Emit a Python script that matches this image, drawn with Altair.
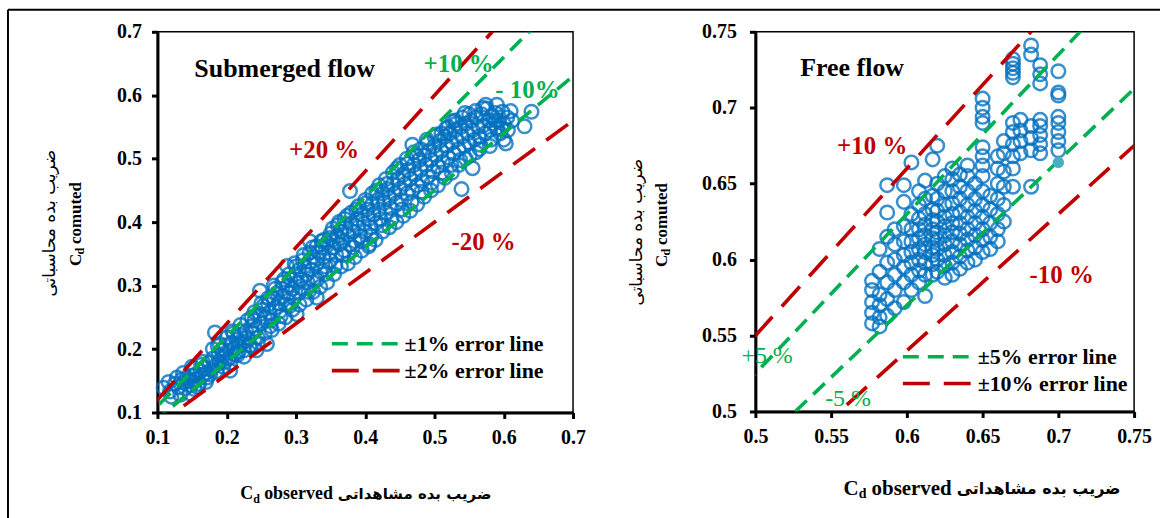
import altair as alt
import pandas as pd

# ---------------- data ----------------
# Submerged flow: (Cd observed, Cd computed)
sub_points = [
    (0.109, 0.139), (0.118, 0.133), (0.125, 0.145), (0.13, 0.14), (0.135, 0.152), (0.138, 0.147),
    (0.14, 0.138), (0.142, 0.155), (0.145, 0.15), (0.147, 0.13), (0.148, 0.143), (0.15, 0.158),
    (0.152, 0.148), (0.155, 0.16), (0.157, 0.152), (0.16, 0.145), (0.162, 0.165), (0.165, 0.158),
    (0.168, 0.17), (0.17, 0.162), (0.172, 0.155), (0.175, 0.178), (0.178, 0.168), (0.18, 0.185),
    (0.183, 0.226), (0.185, 0.175), (0.188, 0.19), (0.19, 0.18), (0.193, 0.198), (0.195, 0.188),
    (0.198, 0.205), (0.2, 0.195), (0.203, 0.185), (0.205, 0.166), (0.207, 0.21), (0.21, 0.2),
    (0.212, 0.192), (0.215, 0.215), (0.218, 0.205), (0.22, 0.222), (0.222, 0.21), (0.225, 0.198),
    (0.228, 0.228), (0.23, 0.218), (0.233, 0.205), (0.235, 0.235), (0.238, 0.225), (0.24, 0.245),
    (0.242, 0.232), (0.245, 0.218), (0.248, 0.292), (0.248, 0.255), (0.25, 0.24), (0.252, 0.262),
    (0.255, 0.25), (0.258, 0.208), (0.26, 0.27), (0.262, 0.258), (0.265, 0.245), (0.267, 0.28),
    (0.27, 0.265), (0.272, 0.288), (0.275, 0.272), (0.277, 0.26), (0.28, 0.295), (0.282, 0.283),
    (0.285, 0.27), (0.287, 0.331), (0.288, 0.3), (0.29, 0.288), (0.292, 0.31), (0.295, 0.295),
    (0.297, 0.28), (0.3, 0.318), (0.301, 0.255), (0.302, 0.305), (0.305, 0.325), (0.307, 0.31),
    (0.31, 0.295), (0.312, 0.33), (0.315, 0.318), (0.317, 0.305), (0.32, 0.37), (0.32, 0.338),
    (0.322, 0.325), (0.325, 0.345), (0.327, 0.312), (0.33, 0.281), (0.33, 0.335), (0.333, 0.352),
    (0.335, 0.322), (0.338, 0.36), (0.34, 0.345), (0.343, 0.33), (0.345, 0.368), (0.348, 0.352),
    (0.35, 0.34), (0.353, 0.39), (0.353, 0.372), (0.355, 0.36), (0.358, 0.348), (0.36, 0.378),
    (0.363, 0.365), (0.365, 0.385), (0.368, 0.37), (0.37, 0.355), (0.372, 0.392), (0.375, 0.38),
    (0.378, 0.449), (0.378, 0.365), (0.38, 0.398), (0.383, 0.385), (0.385, 0.37), (0.388, 0.405),
    (0.39, 0.392), (0.393, 0.378), (0.395, 0.412), (0.398, 0.398), (0.4, 0.385), (0.403, 0.42),
    (0.405, 0.405), (0.406, 0.365), (0.408, 0.392), (0.41, 0.428), (0.412, 0.412), (0.415, 0.398),
    (0.418, 0.435), (0.42, 0.42), (0.422, 0.405), (0.425, 0.445), (0.427, 0.43), (0.43, 0.415),
    (0.432, 0.452), (0.435, 0.438), (0.437, 0.422), (0.44, 0.46), (0.442, 0.445), (0.445, 0.43),
    (0.447, 0.468), (0.45, 0.452), (0.452, 0.435), (0.455, 0.475), (0.457, 0.46), (0.46, 0.445),
    (0.462, 0.482), (0.465, 0.468), (0.468, 0.522), (0.468, 0.45), (0.47, 0.49), (0.472, 0.475),
    (0.475, 0.458), (0.478, 0.498), (0.48, 0.482), (0.482, 0.465), (0.485, 0.505), (0.488, 0.49),
    (0.49, 0.472), (0.492, 0.512), (0.495, 0.498), (0.498, 0.48), (0.5, 0.52), (0.502, 0.505),
    (0.505, 0.488), (0.508, 0.528), (0.51, 0.512), (0.512, 0.495), (0.515, 0.535), (0.518, 0.52),
    (0.52, 0.502), (0.522, 0.54), (0.525, 0.525), (0.526, 0.559), (0.528, 0.508), (0.53, 0.545),
    (0.532, 0.53), (0.535, 0.515), (0.538, 0.55), (0.539, 0.452), (0.54, 0.535), (0.543, 0.52),
    (0.545, 0.555), (0.548, 0.54), (0.55, 0.525), (0.553, 0.56), (0.555, 0.485), (0.555, 0.545),
    (0.558, 0.53), (0.56, 0.565), (0.563, 0.55), (0.565, 0.535), (0.568, 0.57), (0.57, 0.552),
    (0.573, 0.54), (0.575, 0.579), (0.578, 0.56), (0.58, 0.545), (0.583, 0.568), (0.585, 0.555),
    (0.588, 0.572), (0.59, 0.548), (0.593, 0.56), (0.598, 0.574), (0.6, 0.555), (0.603, 0.524),
    (0.605, 0.565), (0.63, 0.551), (0.64, 0.574),
]
# wider-scattered submerged-flow readings
sub_points_spread = [
    (0.12, 0.125), (0.128, 0.155), (0.133, 0.128), (0.15, 0.172), (0.158, 0.14), (0.165, 0.18),
    (0.17, 0.148), (0.18, 0.2), (0.185, 0.165), (0.19, 0.208), (0.195, 0.172), (0.2, 0.218),
    (0.205, 0.178), (0.21, 0.225), (0.215, 0.19), (0.22, 0.238), (0.225, 0.188), (0.23, 0.245),
    (0.235, 0.205), (0.24, 0.258), (0.245, 0.21), (0.25, 0.272), (0.255, 0.225), (0.26, 0.28),
    (0.265, 0.23), (0.27, 0.295), (0.275, 0.24), (0.28, 0.305), (0.285, 0.25), (0.29, 0.318),
    (0.295, 0.262), (0.3, 0.33), (0.305, 0.27), (0.31, 0.34), (0.315, 0.278), (0.32, 0.352),
    (0.325, 0.29), (0.33, 0.362), (0.335, 0.298), (0.34, 0.372), (0.345, 0.305), (0.35, 0.382),
    (0.355, 0.318), (0.36, 0.395), (0.365, 0.33), (0.37, 0.405), (0.375, 0.335), (0.38, 0.415),
    (0.385, 0.345), (0.39, 0.425), (0.395, 0.355), (0.4, 0.435), (0.405, 0.362), (0.41, 0.445),
    (0.415, 0.372), (0.42, 0.458), (0.425, 0.385), (0.43, 0.468), (0.435, 0.392), (0.44, 0.478),
    (0.445, 0.4), (0.45, 0.49), (0.455, 0.41), (0.46, 0.5), (0.465, 0.418), (0.47, 0.51),
    (0.475, 0.428), (0.48, 0.515), (0.485, 0.44), (0.49, 0.525), (0.495, 0.45), (0.5, 0.535),
    (0.505, 0.458), (0.51, 0.54), (0.515, 0.47), (0.52, 0.55), (0.525, 0.478), (0.53, 0.56),
    (0.535, 0.49), (0.54, 0.565), (0.545, 0.5), (0.55, 0.57), (0.56, 0.51), (0.57, 0.58),
    (0.58, 0.52), (0.59, 0.585), (0.6, 0.53), (0.61, 0.575), (0.595, 0.54), (0.565, 0.515),
]
# further irregular readings filling the band
sub_points_mid = [
    (0.116, 0.148), (0.137, 0.162), (0.153, 0.137), (0.163, 0.175), (0.176, 0.16), (0.187, 0.205),
    (0.197, 0.18), (0.208, 0.228), (0.217, 0.196), (0.227, 0.212), (0.236, 0.25), (0.243, 0.198),
    (0.253, 0.268), (0.263, 0.236), (0.268, 0.3), (0.278, 0.252), (0.283, 0.31), (0.291, 0.268),
    (0.298, 0.335), (0.304, 0.288), (0.311, 0.348), (0.318, 0.29), (0.324, 0.36), (0.331, 0.31),
    (0.337, 0.37), (0.342, 0.318), (0.349, 0.375), (0.357, 0.332), (0.362, 0.4), (0.367, 0.348),
    (0.374, 0.41), (0.382, 0.36), (0.387, 0.42), (0.394, 0.37), (0.401, 0.43), (0.409, 0.378),
    (0.416, 0.45), (0.424, 0.395), (0.431, 0.46), (0.438, 0.405), (0.446, 0.485), (0.453, 0.42),
    (0.461, 0.492), (0.467, 0.432), (0.474, 0.505), (0.481, 0.448), (0.489, 0.53), (0.496, 0.462),
    (0.503, 0.538), (0.511, 0.478), (0.517, 0.548), (0.524, 0.49), (0.531, 0.555), (0.537, 0.498),
    (0.544, 0.572), (0.551, 0.505), (0.559, 0.575), (0.566, 0.522), (0.574, 0.585), (0.582, 0.53),
    (0.589, 0.56), (0.597, 0.548), (0.606, 0.545), (0.612, 0.56),
]

# Free flow: vertical stacks, Cd observed -> list of Cd computed
free_stacks = {
    0.577: [0.558, 0.565, 0.572, 0.58, 0.586],
    0.582: [0.556, 0.562, 0.57, 0.577, 0.592, 0.607],
    0.587: [0.563, 0.574, 0.585, 0.598, 0.615, 0.631, 0.649],
    0.592: [0.568, 0.58, 0.59, 0.6, 0.61, 0.62],
    0.598: [0.572, 0.585, 0.595, 0.603, 0.612, 0.622, 0.638, 0.649],
    0.603: [0.58, 0.59, 0.598, 0.605, 0.612, 0.62, 0.63, 0.664],
    0.608: [0.585, 0.593, 0.6, 0.607, 0.614, 0.62, 0.627, 0.636, 0.645],
    0.612: [0.576, 0.59, 0.598, 0.605, 0.61, 0.616, 0.623, 0.63, 0.64, 0.652],
    0.617: [0.59, 0.597, 0.603, 0.608, 0.614, 0.62, 0.626, 0.633, 0.642, 0.666],
    0.62: [0.592, 0.6, 0.607, 0.613, 0.618, 0.625, 0.632, 0.64, 0.65, 0.675],
    0.625: [0.588, 0.596, 0.603, 0.61, 0.616, 0.622, 0.628, 0.636, 0.645, 0.655],
    0.63: [0.59, 0.598, 0.605, 0.612, 0.618, 0.624, 0.63, 0.637, 0.645, 0.653, 0.66],
    0.635: [0.594, 0.602, 0.61, 0.617, 0.624, 0.631, 0.64, 0.648, 0.656],
    0.64: [0.598, 0.606, 0.613, 0.62, 0.628, 0.636, 0.645, 0.655, 0.662],
    0.645: [0.6, 0.608, 0.616, 0.624, 0.632, 0.64, 0.65],
    0.65: [0.605, 0.613, 0.62, 0.628, 0.636, 0.645, 0.655, 0.662, 0.668, 0.674,
           0.69, 0.694, 0.7, 0.706],
    0.655: [0.607, 0.615, 0.624, 0.633, 0.642],
    0.66: [0.612, 0.62, 0.63, 0.64, 0.65, 0.66, 0.668],
    0.664: [0.625, 0.636, 0.648, 0.658, 0.67, 0.678],
    0.67: [0.648, 0.66, 0.668, 0.676, 0.684, 0.69, 0.72, 0.723, 0.726, 0.729, 0.732],
    0.675: [0.67, 0.678, 0.685, 0.692],
    0.682: [0.648, 0.672, 0.68, 0.688, 0.735, 0.741],
    0.688: [0.67, 0.676, 0.682, 0.688, 0.692, 0.716, 0.722, 0.728],
    0.7: [0.672, 0.678, 0.684, 0.69, 0.694, 0.708, 0.71, 0.724],
}
free_marked = [(0.70, 0.664)]

sub_green_ratios = [1.1, 0.9]
sub_red_ratios = [1.2, 0.8]
free_green_ratios = [1.05, 0.95]
free_red_ratios = [1.1, 0.9]

sub_ticks = [0.1, 0.2, 0.3, 0.4, 0.5, 0.6, 0.7]
free_ticks = [0.5, 0.55, 0.6, 0.65, 0.7, 0.75]

# ---------------- style ----------------
SERIF = "Liberation Serif"
FA = "DejaVu Sans"
GREEN = "#00B050"
RED = "#C00000"
BLUE = "#0070C0"
GREEN_DASH = [16, 9]
RED_DASH = [27, 14]
ONE = pd.DataFrame({"a": [0]})


def label(txt, x, y, size, color="black", weight="bold", font=SERIF,
          align="left", angle=0):
    kw = dict(align=align, baseline="middle", fontSize=size, font=font,
              fontWeight=weight, color=color)
    if angle:
        kw["angle"] = angle
    return alt.Chart(pd.DataFrame({"t": [txt]})).mark_text(**kw).encode(
        x=alt.value(x), y=alt.value(y), text="t:N")


def rule(x, y, color, width, x2=None, y2=None, dash=None):
    enc = dict(x=alt.value(x), y=alt.value(y))
    if x2 is not None:
        enc["x2"] = alt.value(x2)
    if y2 is not None:
        enc["y2"] = alt.value(y2)
    mk = dict(color=color, strokeWidth=width)
    if dash:
        mk["strokeDash"] = dash
    return alt.Chart(ONE).mark_rule(**mk).encode(**enc)


def y_title(cx, cy, px, pcy):
    # two rotated lines: Persian (outer) and "Cd comuted" (inner), read bottom-to-top
    return [
        label("ضریب بده محاسباتی", px, pcy, 17, font=FA,
              weight="normal", align="center", angle=270),
        label("C", cx, cy + 41, 17, align="left", angle=270),
        label("d", cx + 4, cy + 29.5, 12, align="left", angle=270),
        label("comuted", cx, cy + 19, 17, align="left", angle=270),
    ]


def x_title(jx, y, size, fa_size):
    ow = 3.833 * size          # width of "observed"
    dw = 0.556 * size * 0.65   # width of subscript "d"
    d_left = jx - ow - 0.25 * size - dw
    return [
        label("C", d_left, y, size, align="right"),
        label("d", d_left, y + 5, round(size * 0.65), align="left"),
        label("observed", jx, y, size, align="right"),
        label("ضریب بده مشاهداتی", jx + 5, y, fa_size, font=FA, weight="bold",
              align="left"),
    ]


def panel(points, dom, ticks, g_ratios, r_ratios, w, h, ylab_pad, extra):
    xs = alt.Scale(domain=dom, nice=False, zero=False)
    ys = alt.Scale(domain=dom, nice=False, zero=False)
    xax = alt.Axis(values=ticks, format="~g", title=None, labelPadding=9,
                   labelFlush=False, labelOverlap=False)
    yax = alt.Axis(values=ticks, format="~g", title=None, labelPadding=ylab_pad,
                   labelFlush=False, labelOverlap=False)
    X = alt.X("obs:Q", scale=xs, axis=xax)
    Y = alt.Y("comp:Q", scale=ys, axis=yax)

    df = pd.DataFrame(points, columns=["obs", "comp"])
    pts = alt.Chart(df).mark_point(shape="circle", filled=False, size=185,
                                   strokeWidth=2.5, color=BLUE, opacity=0.78
                                   ).encode(x=X, y=Y)

    def lines(ratios, color, dash):
        rows = [(x, r) for r in ratios for x in (dom[0] - 0.2, dom[1] + 0.2)]
        d = pd.DataFrame(rows, columns=["obs", "r"])
        return alt.Chart(d).transform_calculate(
            comp="datum.obs * datum.r").mark_line(
            clip=True, color=color, strokeWidth=3.6, strokeDash=dash
        ).encode(x=X, y=Y, detail="r:N")

    layers = [pts, lines(r_ratios, RED, RED_DASH),
              lines(g_ratios, GREEN, GREEN_DASH)] + extra
    return alt.layer(*layers).properties(width=w, height=h)


# ---------------- left panel (plot origin at 157,30) ----------------
left_extra = [
    rule(-150, -22, "black", 2, x2=1006),          # outer frame top
    rule(-150, -22, "black", 2, y2=490),           # outer frame left
    label("Submerged flow", 37, 37, 26),
    label("+10 %", 267, 32, 25, GREEN),
    label("- 10%", 339, 58, 25, GREEN),
    label("+20 %", 132, 119, 25, RED),
    label("-20 %", 295, 211, 25, RED),
    rule(175, 313, GREEN, 3.6, x2=246, dash=GREEN_DASH),
    rule(175, 340, RED, 3.6, x2=246, dash=RED_DASH),
    label("±1% error line", 248, 313, 22),
    label("±2% error line", 248, 340, 22),
] + y_title(-82, 194, -108, 192) + x_title(176, 464, 18, 15)

left = panel(sub_points + sub_points_spread + sub_points_mid, [0.1, 0.7], sub_ticks,
             sub_green_ratios, sub_red_ratios, 417, 382, 10, left_extra)

# ---------------- right panel (plot origin at 757,32) ----------------
free_points = [(x, y) for x, ys in free_stacks.items() for y in ys]

marked = alt.Chart(pd.DataFrame(free_marked, columns=["obs", "comp"])).mark_point(
    shape="circle", filled=True, size=130, color="#4BACC6", opacity=1
).encode(x=alt.X("obs:Q"), y=alt.Y("comp:Q"))

right_extra = [
    marked,
    label("Free flow", 45, 36, 26),
    label("+10 %", 82, 115, 25, RED),
    label("-10 %", 275, 244, 25, RED),
    label("+5 %", -14, 325, 24, GREEN, weight="normal"),
    label("-5 %", 70, 368, 24, GREEN, weight="normal"),
    rule(148, 326, GREEN, 3.6, x2=221, dash=GREEN_DASH),
    rule(148, 353, RED, 3.6, x2=221, dash=RED_DASH),
    label("±5% error line", 223, 326, 22),
    label("±10% error line", 223, 353, 22),
] + y_title(-94, 195, -119, 201) + x_title(197, 459, 21, 16)

right = panel(free_points, [0.5, 0.75], free_ticks, free_green_ratios,
              free_red_ratios, 380, 381, 13, right_extra)

chart = alt.hconcat(left, right, spacing=183, bounds="flush").properties(
    padding={"left": 6, "top": 7, "right": 0, "bottom": 0},
    background="white",
).configure_view(
    stroke="black", strokeWidth=1.5
).configure_axis(
    grid=False, domainColor="black", domainWidth=3, tickColor="black",
    tickWidth=3, tickSize=6, labelFont=SERIF, labelFontSize=20,
    labelFontWeight="bold", labelColor="black",
)

chart.save("out.html", embed_options={"renderer": "svg", "actions": False})
